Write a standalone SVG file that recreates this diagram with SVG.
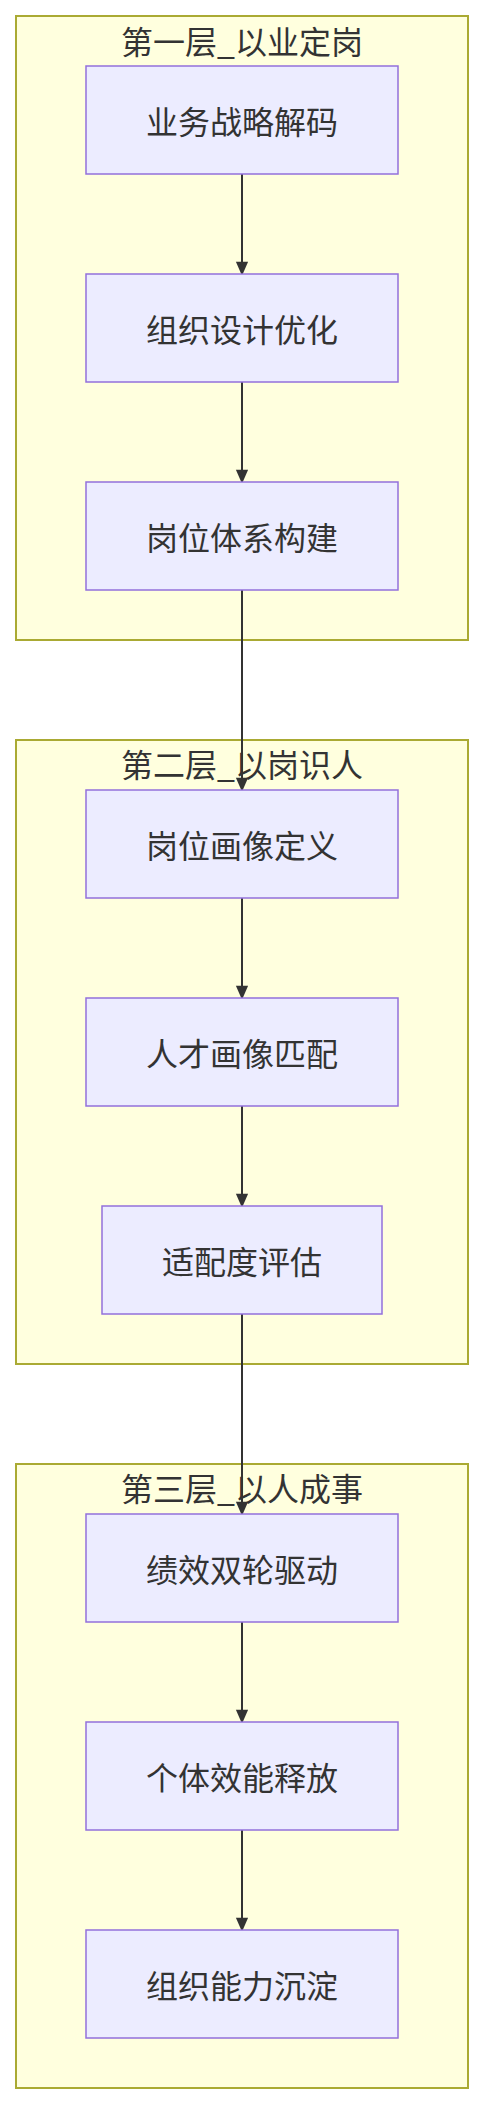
<svg xmlns="http://www.w3.org/2000/svg" width="484" height="2104" viewBox="0 0 484 2104">
<defs>
<style>
.cluster rect{fill:#ffffde;stroke:#aaaa33;stroke-width:2}
.node rect{fill:#ececff;stroke:#9370db;stroke-width:1.5}
text{font-family:"Noto Sans CJK SC","Noto Sans",sans-serif;font-size:32px;fill:#333333;text-anchor:middle;dominant-baseline:central}
.edge{stroke:#333333;stroke-width:2;fill:none}
</style>
<marker id="arrow" viewBox="0 0 14 16" refX="14" refY="7" markerWidth="16" markerHeight="14" orient="auto" markerUnits="userSpaceOnUse">
<path d="M0,0 L16,7 L0,14 z" fill="#333333"/>
</marker>
</defs>
<rect width="484" height="2104" fill="#ffffff"/>
<g id="cluster1" class="cluster"><rect x="16" y="16" width="452" height="624"/><text x="242" y="40">第一层_以业定岗</text></g>
<g id="cluster2" class="cluster"><rect x="16" y="740" width="452" height="624"/><text x="242" y="763">第二层_以岗识人</text></g>
<g id="cluster3" class="cluster"><rect x="16" y="1464" width="452" height="624"/><text x="242" y="1487">第三层_以人成事</text></g>
<g id="edges">
<path class="edge" d="M242,174 V274" marker-end="url(#arrow)"/>
<path class="edge" d="M242,382 V482" marker-end="url(#arrow)"/>
<path class="edge" d="M242,590 V790" marker-end="url(#arrow)"/>
<path class="edge" d="M242,898 V998" marker-end="url(#arrow)"/>
<path class="edge" d="M242,1106 V1206" marker-end="url(#arrow)"/>
<path class="edge" d="M242,1314 V1514" marker-end="url(#arrow)"/>
<path class="edge" d="M242,1622 V1722" marker-end="url(#arrow)"/>
<path class="edge" d="M242,1830 V1930" marker-end="url(#arrow)"/>
</g>
<g id="n1" class="node"><rect x="86" y="66" width="312" height="108"/><text x="242" y="120">业务战略解码</text></g>
<g id="n2" class="node"><rect x="86" y="274" width="312" height="108"/><text x="242" y="328">组织设计优化</text></g>
<g id="n3" class="node"><rect x="86" y="482" width="312" height="108"/><text x="242" y="536">岗位体系构建</text></g>
<g id="n4" class="node"><rect x="86" y="790" width="312" height="108"/><text x="242" y="844">岗位画像定义</text></g>
<g id="n5" class="node"><rect x="86" y="998" width="312" height="108"/><text x="242" y="1052">人才画像匹配</text></g>
<g id="n6" class="node"><rect x="102" y="1206" width="280" height="108"/><text x="242" y="1260">适配度评估</text></g>
<g id="n7" class="node"><rect x="86" y="1514" width="312" height="108"/><text x="242" y="1568">绩效双轮驱动</text></g>
<g id="n8" class="node"><rect x="86" y="1722" width="312" height="108"/><text x="242" y="1776">个体效能释放</text></g>
<g id="n9" class="node"><rect x="86" y="1930" width="312" height="108"/><text x="242" y="1984">组织能力沉淀</text></g>
</svg>
